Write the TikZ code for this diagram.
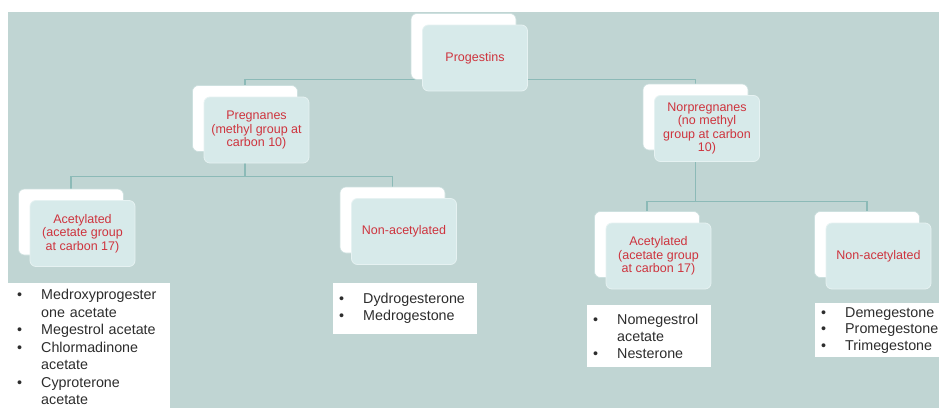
\documentclass[tikz,border=0pt]{standalone}
\usepackage{fontspec}
\setmainfont{Liberation Sans}
\usetikzlibrary{positioning}
\definecolor{slate}{RGB}{192,213,211}
\definecolor{wireclr}{RGB}{140,186,183}
\definecolor{cardfill}{RGB}{215,234,234}
\definecolor{cardedge}{RGB}{230,242,242}
\definecolor{backedge}{RGB}{205,224,223}
\definecolor{tagred}{RGB}{206,52,62}
\definecolor{itemtext}{RGB}{45,45,45}
\newcommand{\itm}{\makebox[24pt][l]{\textbullet}}
\newcommand{\cnt}{\hspace*{24pt}}
\pgfdeclarelayer{canvas}
\pgfdeclarelayer{wires}
\pgfsetlayers{canvas,wires,main}
\tikzstyle{backcard} = [rectangle, draw=backedge, fill=white, rounded corners=6pt,
    minimum width=105pt, minimum height=66pt, line width=0.6pt]
\tikzstyle{frontcard} = [rectangle, draw=cardedge, fill=cardfill, rounded corners=6pt,
    minimum width=105pt, minimum height=66pt, align=center, text=tagred,
    font=\fontsize{12.5}{13.3}\selectfont, line width=0.8pt]
\tikzstyle{listbox} = [rectangle, fill=white, anchor=north west, align=left,
    text=itemtext, inner xsep=6pt, font=\fontsize{14.3}{17}\selectfont]
\tikzstyle{link} = [draw=wireclr, line width=1.2pt]

\begin{document}
\begin{tikzpicture}[x=1pt, y=-1pt]
\useasboundingbox (0,0) rectangle (939,408);
\begin{pgfonlayer}{canvas}
\fill[slate] (8,12) rectangle (939,408);
\end{pgfonlayer}
\node[backcard] (progB) at (463.5,46.5) {};
\node[frontcard] (prog) at ([xshift=11.5pt,yshift=-11.5pt]progB.center) {Progestins};
\node[backcard] (pregB) at (245,118.5) {};
\node[frontcard] (preg) at ([xshift=11.5pt,yshift=-11.5pt]pregB.center)
  {Pregnanes\\(methyl group at\\carbon 10)};
\node[backcard] (norB) at (695.5,117) {};
\node[frontcard] (nor) at ([xshift=11.5pt,yshift=-11.5pt]norB.center)
  {Norpregnanes\\(no methyl\\group at carbon\\10)};
\node[backcard] (acetAB) at (71,222) {};
\node[frontcard] (acetA) at ([xshift=11.5pt,yshift=-11.5pt]acetAB.center)
  {Acetylated\\(acetate group\\at carbon 17)};
\node[backcard] (nonAB) at (392.5,220) {};
\node[frontcard] (nonA) at ([xshift=11.5pt,yshift=-11.5pt]nonAB.center) {Non-acetylated};
\node[backcard] (acetBB) at (647,244.5) {};
\node[frontcard] (acetB) at ([xshift=11.5pt,yshift=-11.5pt]acetBB.center)
  {Acetylated\\(acetate group\\at carbon 17)};
\node[backcard] (nonBB) at (867,244.5) {};
\node[frontcard] (nonB) at ([xshift=11.5pt,yshift=-11.5pt]nonBB.center) {Non-acetylated};
\node[listbox, inner xsep=9pt, inner ysep=6pt, text width=144pt,
  font=\fontsize{14.3}{17.5}\selectfont] (listA) at (8,283)
  {\itm Medroxyprogester\\ \cnt one acetate\\ \itm Megestrol acetate\\
   \itm Chlormadinone\\ \cnt acetate\\ \itm Cyproterone\\ \cnt acetate\\ \strut};
\node[listbox, text width=132pt, minimum height=51pt] (listB) at (333,283)
  {\itm Dydrogesterone\\ \itm Medrogestone};
\node[listbox, text width=112pt, minimum height=62pt] (listC) at (587,305)
  {\itm Nomegestrol\\ \cnt acetate\\ \itm Nesterone};
\node[listbox, text width=130pt, minimum height=54pt,
  font=\fontsize{14.3}{16.5}\selectfont] (listD) at (815,303)
  {\itm Demegestone\\ \itm Promegestone\\ \itm Trimegestone};
\begin{pgfonlayer}{wires}
\draw[link] (pregB.north) |- (progB.south) -| (norB.north);
\draw[link] (pregB.south) -- ++(0,25) -| (acetAB.north);
\draw[link] (pregB.south) ++(0,25) -| (nonAB.north);
\draw[link] (norB.south) -- ++(0,51) -| (acetBB.north);
\draw[link] (norB.south) ++(0,51) -| (nonBB.north);
\end{pgfonlayer}
\end{tikzpicture}
\end{document}
